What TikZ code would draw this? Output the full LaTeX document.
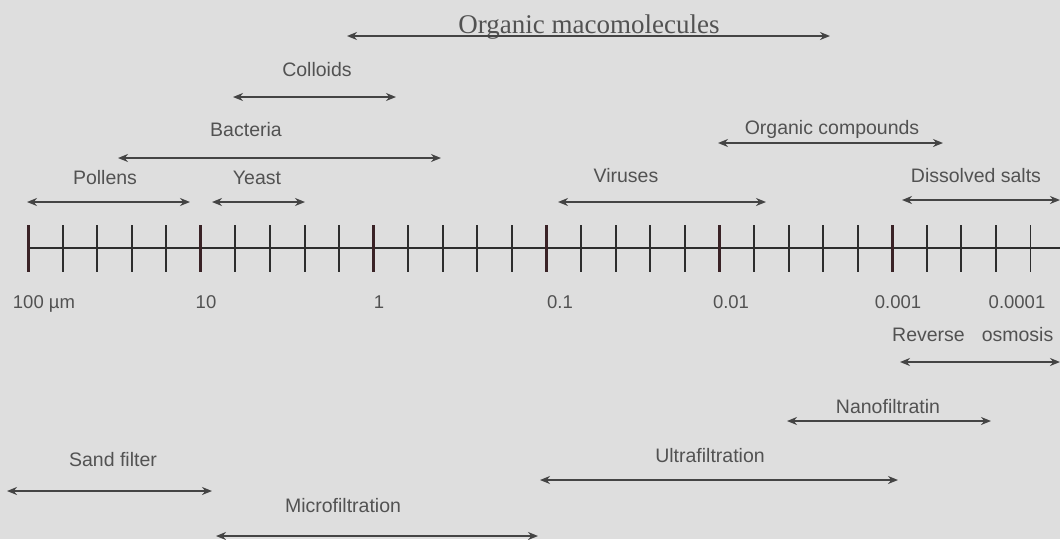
\documentclass[tikz,border=0pt]{standalone}
\usepackage{fontspec}
\setmainfont{Liberation Sans}
\newfontfamily\titleserif{Liberation Serif}
\usetikzlibrary{arrows.meta}
\definecolor{bg}{RGB}{222,222,222}
\definecolor{ink}{RGB}{82,82,82}
\definecolor{arr}{RGB}{68,68,68}
\definecolor{tickc}{RGB}{45,45,45}
\definecolor{majorc}{RGB}{58,34,38}
\begin{document}
\begin{tikzpicture}[x=1pt,y=-1pt,
  lbl/.style={text=ink,font=\fontsize{19.5}{22}\selectfont,inner sep=0pt,anchor=base},
  num/.style={text=ink,font=\fontsize{18.5}{21}\selectfont,inner sep=0pt,anchor=base},
  spanarrow/.style={draw=arr,line width=2.3pt,{Stealth[length=10pt,width=8pt]}-{Stealth[length=10pt,width=8pt]}},
  minortick/.style={draw=tickc,line width=1.9pt},
  majortick/.style={draw=majorc,line width=3pt},
  axisline/.style={draw=tickc,line width=1.9pt}]
\fill[bg] (0,0) rectangle (1060,539);
\useasboundingbox (0,0) rectangle (1060,539);

% axis
\coordinate (axL) at (28,248);
\coordinate (axR) at (1060,248);
\draw[axisline] (axL) -- (axR);
\foreach \k in {0,...,29}{
  \pgfmathsetmacro{\xx}{28+\k*34.57}
  \pgfmathtruncatemacro{\m}{mod(\k,5)}
  \ifnum\m=0
    \draw[majortick] (\xx,225) -- (\xx,272);
  \else
    \draw[minortick] (\xx,225) -- (\xx,272);
  \fi
}

% scale numbers
\node[num] (n100) at (44,308) {100 µm};
\node[num] (n10) at (206,308) {10};
\node[num] (n1) at (379,308) {1};
\node[num] (n01) at (560,308) {0.1};
\node[num] (n001) at (731,308) {0.01};
\node[num] (n0001) at (898,308) {0.001};
\node[num] (n00001) at (1017,308) {0.0001};

% title range
\node[text=ink,font=\titleserif\fontsize{27}{30}\selectfont,inner sep=0pt,anchor=base] (orgmac) at (589,33) {Organic macomolecules};
\coordinate (omL) at (347,36); \coordinate (omR) at (830,36);
\draw[spanarrow] (omL) -- (omR);

% particle ranges
\node[lbl] (colloids) at (317,76) {Colloids};
\coordinate (coL) at (233,97); \coordinate (coR) at (396,97);
\draw[spanarrow] (coL) -- (coR);

\node[lbl] (bacteria) at (246,136) {Bacteria};
\coordinate (baL) at (118,158); \coordinate (baR) at (441,158);
\draw[spanarrow] (baL) -- (baR);

\node[lbl] (pollens) at (105,184) {Pollens};
\coordinate (poL) at (27,202); \coordinate (poR) at (190,202);
\draw[spanarrow] (poL) -- (poR);

\node[lbl] (yeast) at (257,184) {Yeast};
\coordinate (yeL) at (212,202); \coordinate (yeR) at (305,202);
\draw[spanarrow] (yeL) -- (yeR);

\node[lbl] (orgcomp) at (832,134.5) {Organic compounds};
\coordinate (ocL) at (718,143); \coordinate (ocR) at (943,143);
\draw[spanarrow] (ocL) -- (ocR);

\node[lbl] (viruses) at (626,182) {Viruses};
\coordinate (viL) at (558,202); \coordinate (viR) at (766,202);
\draw[spanarrow] (viL) -- (viR);

\node[lbl] (salts) at (976,182) {Dissolved salts};
\coordinate (saL) at (902,200); \coordinate (saR) at (1060,200);
\draw[spanarrow] (saL) -- (saR);

% filtration ranges
\node[lbl,anchor=base west] (ro) at (892,341) {Reverse\hspace{17pt}osmosis};
\coordinate (roL) at (900,362); \coordinate (roR) at (1060,362);
\draw[spanarrow] (roL) -- (roR);

\node[lbl] (nano) at (888,413.5) {Nanofiltratin};
\coordinate (naL) at (787,421); \coordinate (naR) at (991,421);
\draw[spanarrow] (naL) -- (naR);

\node[lbl] (ultra) at (710,462) {Ultrafiltration};
\coordinate (ulL) at (540,480); \coordinate (ulR) at (898,480);
\draw[spanarrow] (ulL) -- (ulR);

\node[lbl] (sand) at (113,466) {Sand filter};
\coordinate (snL) at (7,491); \coordinate (snR) at (212,491);
\draw[spanarrow] (snL) -- (snR);

\node[lbl] (micro) at (343,512) {Microfiltration};
\coordinate (miL) at (216,536); \coordinate (miR) at (538,536);
\draw[spanarrow] (miL) -- (miR);
\end{tikzpicture}
\end{document}
